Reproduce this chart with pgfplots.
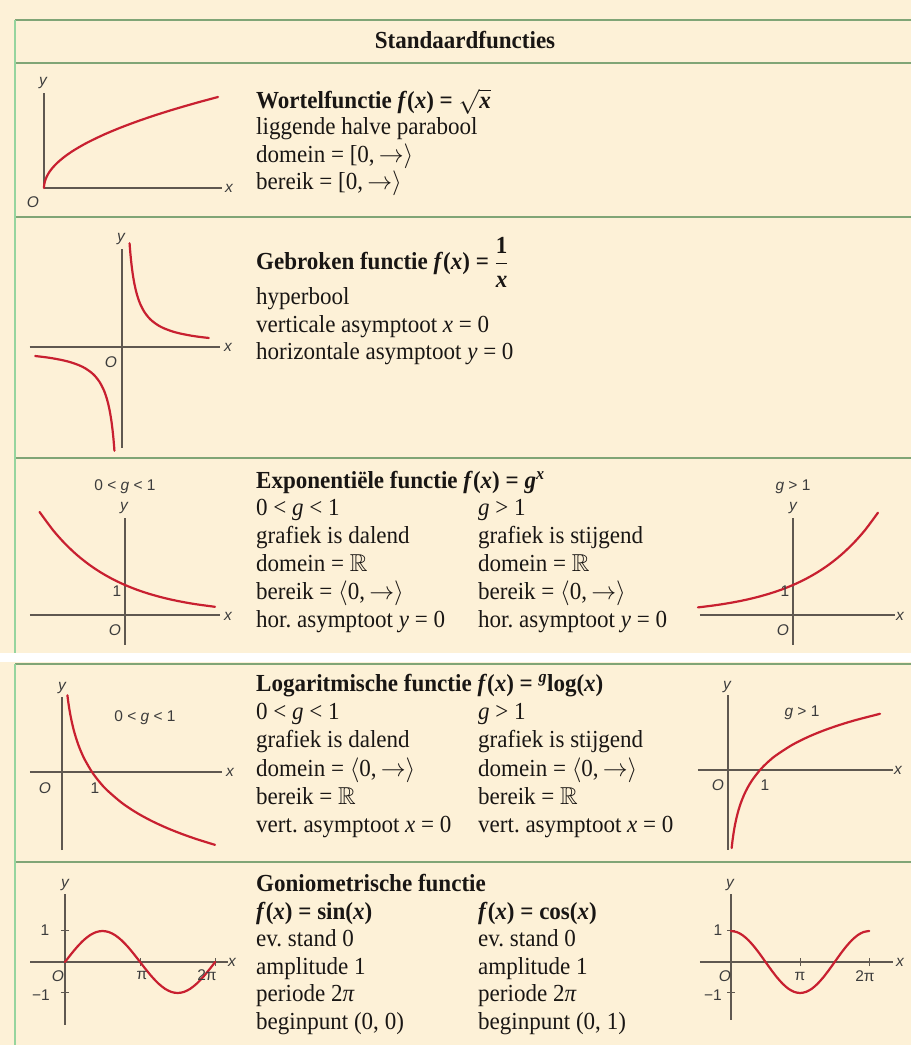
\documentclass[border=0pt]{standalone}
\usepackage{amsmath,amssymb}
\usepackage{fontspec}
\setmainfont{Liberation Serif}[FakeStretch=0.94]
\newfontfamily\lab{Liberation Sans}
\usepackage{pgfplots}
\pgfplotsset{compat=1.18}
\frenchspacing
\definecolor{bg}{RGB}{253,241,215}
\definecolor{hl}{RGB}{128,165,118}
\definecolor{vl}{RGB}{150,212,158}
\definecolor{axc}{RGB}{95,88,80}
\definecolor{crv}{RGB}{200,32,48}
\definecolor{labc}{RGB}{60,60,60}
\definecolor{txc}{RGB}{25,22,20}
\pgfplotsset{mini/.style={axis lines=none, enlargelimits=false, clip=false, anchor=origin, xtick=\empty, ytick=\empty}}
\tikzset{
 axl/.style={draw=axc, line width=1.8pt},
 cv/.style={draw=crv, line width=2.2pt, line join=round, line cap=round, smooth, no markers},
 lb/.style={font=\lab\fontsize{15.5}{15.5}\selectfont, text=labc, inner sep=0pt},
 tx/.style={anchor=base west, inner sep=0pt, text=txc, font=\fontsize{24.5}{28}\selectfont},
 tk/.style={draw=axc, line width=1pt}
}
\newcommand{\ar}{\smash{$\rightarrow$}}
\newcommand{\ra}{\smash{$\rangle$}}
\newcommand{\la}{\smash{$\langle$}}
\begin{document}
\begin{tikzpicture}[x=1pt,y=1pt]
\useasboundingbox (0,0) rectangle (911,1045);
\fill[bg] (0,0) rectangle (911,1045);
\fill[white] (0,383) rectangle (911,392);
% grid lines
\foreach \yy in {1025,982,828,587,381,183} {\draw[hl, line width=2pt] (15,\yy) -- (911,\yy);}
\draw[vl, line width=2pt] (15,1025) -- (15,392);
\draw[vl, line width=2pt] (15,381) -- (15,0);

% header
\node[anchor=base, inner sep=0pt, text=txc, font=\fontsize{24.5}{28}\selectfont\bfseries] at (465,996) {Standaardfuncties};

% Row 1
\node[tx] at (256,936) {\textbf{Wortelfunctie \textit{f}(\textit{x}) = $\sqrt{\mbox{\bfseries\itshape x}}$}};
\node[tx] at (256,910) {liggende halve parabool};
\node[tx] at (256,882) {domein = [0,\,\ar\ra};
\node[tx] at (256,855) {bereik = [0,\,\ar\ra};

% Row 2
\node[tx] at (256,775) {\textbf{Gebroken functie \textit{f}(\textit{x}) = $\dfrac{\mbox{\bfseries 1}}{\mbox{\bfseries\itshape x}}$}};
\node[tx] at (256,740) {hyperbool};
\node[tx] at (256,712) {verticale asymptoot \textit{x} = 0};
\node[tx] at (256,685) {horizontale asymptoot \textit{y} = 0};

% Row 3
\node[tx] at (256,556) {\textbf{Exponentiële functie \textit{f}(\textit{x}) = \textit{g}\textsuperscript{\textit{x}}}};
\node[tx] at (256,529) {0 < \textit{g} < 1};
\node[tx] at (478,529) {\textit{g} > 1};
\node[tx] at (256,501) {grafiek is dalend};
\node[tx] at (478,501) {grafiek is stijgend};
\node[tx] at (256,473) {domein = $\mathbb{R}$};
\node[tx] at (478,473) {domein = $\mathbb{R}$};
\node[tx] at (256,445) {bereik = \la0,\,\ar\ra};
\node[tx] at (478,445) {bereik = \la0,\,\ar\ra};
\node[tx] at (256,417) {hor. asymptoot \textit{y} = 0};
\node[tx] at (478,417) {hor. asymptoot \textit{y} = 0};

% Row 4
\node[tx] at (256,353) {\textbf{Logaritmische functie \textit{f}(\textit{x}) = \textsuperscript{\textit{g}}log(\textit{x})}};
\node[tx] at (256,325) {0 < \textit{g} < 1};
\node[tx] at (478,325) {\textit{g} > 1};
\node[tx] at (256,297) {grafiek is dalend};
\node[tx] at (478,297) {grafiek is stijgend};
\node[tx] at (256,268) {domein = \la0,\,\ar\ra};
\node[tx] at (478,268) {domein = \la0,\,\ar\ra};
\node[tx] at (256,240) {bereik = $\mathbb{R}$};
\node[tx] at (478,240) {bereik = $\mathbb{R}$};
\node[tx] at (256,212) {vert. asymptoot \textit{x} = 0};
\node[tx] at (478,212) {vert. asymptoot \textit{x} = 0};

% Row 5
\node[tx] at (256,153) {\textbf{Goniometrische functie}};
\node[tx] at (256,125) {\textbf{\textit{f}(\textit{x}) = sin(\textit{x})}};
\node[tx] at (478,125) {\textbf{\textit{f}(\textit{x}) = cos(\textit{x})}};
\node[tx] at (256,98) {ev. stand 0};
\node[tx] at (478,98) {ev. stand 0};
\node[tx] at (256,70) {amplitude 1};
\node[tx] at (478,70) {amplitude 1};
\node[tx] at (256,43) {periode 2\textit{π}};
\node[tx] at (478,43) {periode 2\textit{π}};
\node[tx] at (256,16) {beginpunt (0, 0)};
\node[tx] at (478,16) {beginpunt (0, 1)};

% ---- A1 sqrt
\begin{axis}[mini, at={(44pt,857pt)}, x=43.5pt, y=45.5pt, xmin=0, xmax=4.09, ymin=0, ymax=2.09]
\draw[axl] (axis cs:0,0) -- (axis cs:4.09,0);
\draw[axl] (axis cs:0,0) -- (axis cs:0,2.09);
\addplot[cv] coordinates {(0,0) (0.002,0.0447) (0.006,0.0775) (0.015,0.1225) (0.03,0.1732) (0.06,0.2449) (0.1,0.3162) (0.16,0.4) (0.25,0.5) (0.36,0.6) (0.5,0.7071) (0.7,0.8367) (1,1) (1.4,1.1832) (1.8,1.3416) (2.2,1.4832) (2.6,1.6125) (3,1.7321) (3.5,1.8708) (4,2)};
\end{axis}
\node[lb] at (43,962) {\itshape y};
\node[lb] at (229,857) {\itshape x};
\node[lb] at (33,843) {\itshape O};

% ---- A2 hyperbola
\begin{axis}[mini, at={(122pt,698pt)}, x=28pt, y=28pt, xmin=-3.3, xmax=3.5, ymin=-3.6, ymax=3.5]
\draw[axl] (axis cs:-3.3,0) -- (axis cs:3.5,0);
\draw[axl] (axis cs:0,-3.6) -- (axis cs:0,3.5);
\addplot[cv] coordinates {(0.27,3.7037) (0.3,3.3333) (0.34,2.9412) (0.38,2.6316) (0.43,2.3256) (0.5,2) (0.58,1.7241) (0.67,1.4925) (0.8,1.25) (0.95,1.0526) (1.1,0.9091) (1.3,0.7692) (1.5,0.6667) (1.8,0.5556) (2.1,0.4762) (2.5,0.4) (2.8,0.3571) (3.1,0.3226)};
\addplot[cv] coordinates {(-3.1,-0.3226) (-2.8,-0.3571) (-2.5,-0.4) (-2.1,-0.4762) (-1.8,-0.5556) (-1.5,-0.6667) (-1.3,-0.7692) (-1.1,-0.9091) (-0.95,-1.0526) (-0.8,-1.25) (-0.67,-1.4925) (-0.58,-1.7241) (-0.5,-2) (-0.43,-2.3256) (-0.38,-2.6316) (-0.34,-2.9412) (-0.3,-3.3333) (-0.27,-3.7037)};
\end{axis}
\node[lb] at (121,806) {\itshape y};
\node[lb] at (228,698) {\itshape x};
\node[lb] at (111,683) {\itshape O};

% ---- A3 exp 0<g<1
\begin{axis}[mini, at={(125pt,430pt)}, x=48pt, y=30pt, xmin=-1.98, xmax=1.98, ymin=-1, ymax=3.23]
\draw[axl] (axis cs:-1.98,0) -- (axis cs:1.98,0);
\draw[axl] (axis cs:0,-1) -- (axis cs:0,3.23);
\addplot[cv] coordinates {(-1.78,3.434) (-1.5,2.8284) (-1.25,2.3784) (-1,2) (-0.75,1.6818) (-0.5,1.4142) (-0.25,1.1892) (0,1) (0.25,0.8409) (0.5,0.7071) (0.75,0.5946) (1,0.5) (1.25,0.4204) (1.5,0.3536) (1.875,0.2726)};
\end{axis}
\node[lb] at (125,558) {0 < \itshape g\upshape{} < 1};
\node[lb] at (124,537) {\itshape y};
\node[lb] at (228,429) {\itshape x};
\node[lb] at (115,415) {\itshape O};
\node[lb] at (117,454) {1};

% ---- A4 exp g>1
\begin{axis}[mini, at={(793pt,430pt)}, x=48pt, y=30pt, xmin=-1.94, xmax=2.13, ymin=-1, ymax=3.23]
\draw[axl] (axis cs:-1.94,0) -- (axis cs:2.13,0);
\draw[axl] (axis cs:0,-1) -- (axis cs:0,3.23);
\addplot[cv] coordinates {(-1.98,0.2535) (-1.75,0.2973) (-1.5,0.3536) (-1.25,0.4204) (-1,0.5) (-0.75,0.5946) (-0.5,0.7071) (-0.25,0.8409) (0,1) (0.25,1.1892) (0.5,1.4142) (0.75,1.6818) (1,2) (1.25,2.3784) (1.5,2.8284) (1.77,3.4105)};
\end{axis}
\node[lb] at (793,558) {\itshape g\upshape{} > 1};
\node[lb] at (793,537) {\itshape y};
\node[lb] at (900,429) {\itshape x};
\node[lb] at (783,415) {\itshape O};
\node[lb] at (785,454) {1};

% ---- A5 log 0<g<1
\begin{axis}[mini, at={(62pt,273pt)}, x=30pt, y=31pt, xmin=-1.07, xmax=5.33, ymin=-2.52, ymax=2.42]
\draw[axl] (axis cs:-1.07,0) -- (axis cs:5.33,0);
\draw[axl] (axis cs:0,-2.52) -- (axis cs:0,2.42);
\addplot[cv] coordinates {(0.18,2.4739) (0.2,2.3219) (0.23,2.1203) (0.27,1.889) (0.32,1.6439) (0.4,1.3219) (0.5,1) (0.6,0.737) (0.75,0.415) (1,0) (1.25,-0.3219) (1.5,-0.585) (2,-1) (2.5,-1.3219) (3,-1.585) (3.5,-1.8074) (4,-2) (4.5,-2.1699) (5.1,-2.3505)};
\end{axis}
\node[lb] at (62,357) {\itshape y};
\node[lb] at (230,273) {\itshape x};
\node[lb] at (45,257) {\itshape O};
\node[lb] at (95,257) {1};
\node[lb] at (145,327) {0 < \itshape g\upshape{} < 1};

% ---- A6 log g>1
\begin{axis}[mini, at={(728pt,275pt)}, x=32pt, y=25pt, xmin=-0.94, xmax=5.16, ymin=-3.2, ymax=3.0]
\draw[axl] (axis cs:-0.94,0) -- (axis cs:5.16,0);
\draw[axl] (axis cs:0,-3.2) -- (axis cs:0,3.0);
\addplot[cv] coordinates {(0.115,-3.1205) (0.13,-2.9436) (0.15,-2.737) (0.18,-2.4739) (0.22,-2.1844) (0.27,-1.889) (0.33,-1.5995) (0.4,-1.3219) (0.5,-1) (0.6,-0.737) (0.75,-0.415) (1,0) (1.25,0.3219) (1.5,0.585) (2,1) (2.5,1.3219) (3,1.585) (3.5,1.8074) (4,2) (4.75,2.248)};
\end{axis}
\node[lb] at (727,358) {\itshape y};
\node[lb] at (898,275) {\itshape x};
\node[lb] at (718,260) {\itshape O};
\node[lb] at (765,260) {1};
\node[lb] at (802,332) {\itshape g\upshape{} > 1};

% ---- A7 sin
\begin{axis}[mini, at={(65pt,83pt)}, x=23.9pt, y=31pt, xmin=-1.46, xmax=6.82, ymin=-2.03, ymax=2.2]
\draw[axl] (axis cs:-1.46,0) -- (axis cs:6.82,0);
\draw[axl] (axis cs:0,-2.03) -- (axis cs:0,2.2);
\draw[tk] (axis cs:-0.17,1) -- (axis cs:0.17,1);
\draw[tk] (axis cs:-0.17,-1) -- (axis cs:0.17,-1);
\draw[tk] (axis cs:3.1416,-0.13) -- (axis cs:3.1416,0.13);
\draw[tk] (axis cs:6.2832,-0.13) -- (axis cs:6.2832,0.13);
\addplot[cv] coordinates {(0,0) (0.2618,0.2588) (0.5236,0.5) (0.7854,0.7071) (1.0472,0.8660) (1.3090,0.9659) (1.5708,1) (1.8326,0.9659) (2.0944,0.8660) (2.3562,0.7071) (2.6180,0.5) (2.8798,0.2588) (3.1416,0) (3.4034,-0.2588) (3.6652,-0.5) (3.9270,-0.7071) (4.1888,-0.8660) (4.4506,-0.9659) (4.7124,-1) (4.9742,-0.9659) (5.2360,-0.8660) (5.4978,-0.7071) (5.7596,-0.5) (6.0214,-0.2588) (6.2832,0)};
\end{axis}
\node[lb] at (65,160) {\itshape y};
\node[lb] at (232,83) {\itshape x};
\node[lb] at (58,69) {\itshape O};
\node[lb] at (45,115) {1};
\node[lb] at (41,50) {−1};
\node[lb] at (142,70) {π};
\node[lb] at (207,70) {2π};

% ---- A8 cos
\begin{axis}[mini, at={(731pt,83pt)}, x=22pt, y=31pt, xmin=-1.41, xmax=7.36, ymin=-1.87, ymax=2.2]
\draw[axl] (axis cs:-1.41,0) -- (axis cs:7.36,0);
\draw[axl] (axis cs:0,-1.87) -- (axis cs:0,2.2);
\draw[tk] (axis cs:-0.18,1) -- (axis cs:0.18,1);
\draw[tk] (axis cs:-0.18,-1) -- (axis cs:0.18,-1);
\draw[tk] (axis cs:3.1416,-0.13) -- (axis cs:3.1416,0.13);
\draw[tk] (axis cs:6.2832,-0.13) -- (axis cs:6.2832,0.13);
\addplot[cv] coordinates {(0,1) (0.2618,0.9659) (0.5236,0.8660) (0.7854,0.7071) (1.0472,0.5) (1.3090,0.2588) (1.5708,0) (1.8326,-0.2588) (2.0944,-0.5) (2.3562,-0.7071) (2.6180,-0.8660) (2.8798,-0.9659) (3.1416,-1) (3.4034,-0.9659) (3.6652,-0.8660) (3.9270,-0.7071) (4.1888,-0.5) (4.4506,-0.2588) (4.7124,0) (4.9742,0.2588) (5.2360,0.5) (5.4978,0.7071) (5.7596,0.8660) (6.0214,0.9659) (6.2832,1)};
\end{axis}
\node[lb] at (730,160) {\itshape y};
\node[lb] at (900,83) {\itshape x};
\node[lb] at (725,69) {\itshape O};
\node[lb] at (800,69) {π};
\node[lb] at (865,69) {2π};
\node[lb] at (718,115) {1};
\node[lb] at (713,50) {−1};
\end{tikzpicture}
\end{document}
